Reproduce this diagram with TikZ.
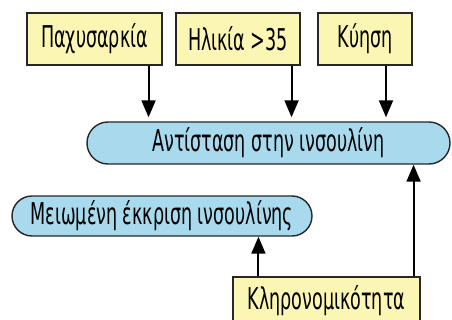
\documentclass[tikz,border=0pt]{standalone}
\usepackage{fontspec}
\setmainfont[FakeStretch=0.65]{DejaVu Sans Condensed}
\usepackage{xcolor}
\usetikzlibrary{arrows.meta,positioning,shapes.misc}

\definecolor{factor}{HTML}{FBF6B4}
\definecolor{effect}{HTML}{A9D9EC}

\tikzset{
  factorbox/.style={draw=black!85,line width=1.1pt,fill=factor,minimum height=52pt,inner sep=0pt,font=\fontsize{30pt}{34pt}\selectfont},
  effectpill/.style={draw=black!85,line width=1.4pt,fill=effect,rounded rectangle,inner sep=0pt,font=\fontsize{30pt}{34pt}\selectfont},
  cause/.style={line width=2pt,-{Triangle[length=17pt,width=14pt]}}
}

\begin{document}
\begin{tikzpicture}[x=1pt,y=-1pt]
\useasboundingbox (0,0) rectangle (452,320);
\clip (0,0) rectangle (452,320);

% Risk factors on top
\node[factorbox,minimum width=135pt] (obesity) at (94.5,39) {Παχυσαρκία};
\node[factorbox,minimum width=124pt] (age) at (238,39) {Ηλικία >35};
\node[factorbox,minimum width=94pt] (pregnancy) at (365,39) {Κύηση};

% Effects
\node[effectpill,minimum width=363pt,minimum height=42pt] (resist) at (268.5,143) {Αντίσταση στην ινσουλίνη};
\node[effectpill,minimum width=300pt,minimum height=40pt] (secretion) at (162,216) {Μειωμένη έκκριση ινσουλίνης};

% Heredity at the bottom, cut by the page edge
\node[factorbox,minimum width=187pt,minimum height=48pt] (heredity) at (326.5,301) {Κληρονομικότητα};

% Arrows down into the resistance pill
\draw[cause,shorten >=4pt] ([xshift=-14pt]obesity.south east) -- ([xshift=-14pt]obesity.south east |- resist.north);
\draw[cause,shorten >=4pt] ([xshift=-9pt]age.south east) -- ([xshift=-9pt]age.south east |- resist.north);
\draw[cause,shorten >=4pt] ([xshift=21pt]pregnancy.south) -- ([xshift=21pt]pregnancy.south |- resist.north);

% Arrows up from heredity
\draw[cause] ([xshift=26pt]heredity.north west) -- ([xshift=26pt]heredity.north west |- secretion.south);
\draw[cause] ([xshift=-7pt]heredity.north east) -- ([xshift=-7pt]heredity.north east |- resist.south);
\end{tikzpicture}
\end{document}
